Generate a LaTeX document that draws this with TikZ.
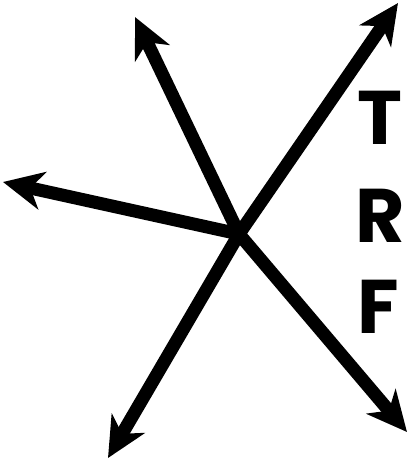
\documentclass[tikz,border=0pt]{standalone}
\usepackage{fontspec}
\setmainfont{Poppins}
\usetikzlibrary{arrows.meta}

\begin{document}
\begin{tikzpicture}[x=1pt, y=-1pt,
    vec/.style={line width=13pt, -{Stealth[length=40pt, width=38pt, inset=12pt]}},
    lbl/.style={font=\fontsize{76}{76}\selectfont\bfseries, inner sep=0pt}]
    \useasboundingbox (0,0) rectangle (410,463);
    % centre and arrow tips
    \coordinate (o) at (239,234);
    \coordinate (ul) at (135,17);
    \coordinate (ur) at (398,3);
    \coordinate (l) at (3,182);
    \coordinate (dl) at (108,458);
    \coordinate (dr) at (407,432);
    % arrows
    \draw[vec] (o) -- (ul);
    \draw[vec] (o) -- (ur);
    \draw[vec] (o) -- (l);
    \draw[vec] (o) -- (dl);
    \draw[vec] (o) -- (dr);
    % letters
    \node[lbl] (t) at (380,118) {T};
    \node[lbl] (r) at (380,216) {R};
    \node[lbl] (f) at (378,307) {F};
\end{tikzpicture}
\end{document}
